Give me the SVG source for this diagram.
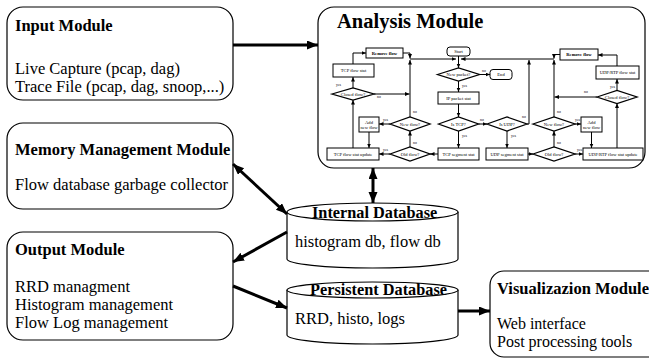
<svg xmlns="http://www.w3.org/2000/svg" width="649" height="358" viewBox="0 0 649 358">
<style>
text{font-family:"Liberation Serif","Times New Roman",serif;fill:#000}
.t{font-size:16.5px;font-weight:bold}
.b{font-size:16.5px}
.v{font-size:16px}
.dt{font-size:16.3px;font-weight:bold}
.mod{fill:#fff;stroke:#000;stroke-width:1.2}
.big{fill:none;stroke:#000;stroke-width:3}
.fc{fill:#fff;stroke:#000;stroke-width:1}
.dm{fill:#fff;stroke:#000;stroke-width:1.3}
.ln{fill:none;stroke:#000;stroke-width:1}
.s{font-size:4.6px;text-anchor:middle}
.sb{font-size:4.6px;text-anchor:middle;font-weight:bold}
.l{font-size:3.8px}
</style>
<defs>
<marker id="ah" markerUnits="userSpaceOnUse" markerWidth="12" markerHeight="10" refX="11" refY="4.5" orient="auto-start-reverse"><path d="M0,0 L11,4.5 L0,9 z" fill="#000"/></marker>
<marker id="sa" markerUnits="userSpaceOnUse" markerWidth="6" markerHeight="6" refX="4.5" refY="2" orient="auto-start-reverse"><path d="M0,0 L4.5,2 L0,4 z" fill="#000"/></marker>
</defs>

<g id="input-module">
<rect class="mod" x="7" y="7" width="226" height="93" rx="16"/>
<text class="t" x="15" y="31">Input Module</text>
<text class="b" x="15" y="74">Live Capture (pcap, dag)</text>
<text class="b" x="15" y="92">Trace File (pcap, dag, snoop,...)</text>
</g>

<g id="memory-module">
<rect class="mod" x="7" y="123" width="226" height="86" rx="16"/>
<text class="t" x="15" y="155">Memory Management Module</text>
<text class="b" x="15" y="190">Flow database garbage collector</text>
</g>

<g id="output-module">
<rect class="mod" x="7" y="232" width="226" height="108" rx="16"/>
<text class="t" x="15" y="255">Output Module</text>
<text class="b" x="15" y="292">RRD managment</text>
<text class="b" x="15" y="310">Histogram management</text>
<text class="b" x="15" y="328">Flow Log management</text>
</g>

<g id="visualization-module">
<rect class="mod" x="490" y="271" width="175" height="86" rx="14"/>
<text class="t" x="497" y="294">Visualizazion Module</text>
<text class="v" x="497" y="329">Web interface</text>
<text class="v" x="497" y="347">Post processing tools</text>
</g>

<g id="internal-database">
<path class="mod" d="M287,212 V259 A85.5,9 0 0 0 458,259 V212"/>
<ellipse class="mod" cx="372.5" cy="212" rx="85.5" ry="9"/>
<text class="dt" x="312" y="218">Internal Database</text>
<text class="b" x="295" y="247">histogram db, flow db</text>
</g>

<g id="persistent-database">
<path class="mod" d="M287,290 V335 A85.5,9 0 0 0 458,335 V290"/>
<ellipse class="mod" cx="372.5" cy="290" rx="85.5" ry="8"/>
<text class="dt" x="310" y="295">Persistent Database</text>
<text class="b" x="295" y="324">RRD, histo, logs</text>
</g>

<g id="analysis-module">
<rect class="mod" x="318" y="7" width="327" height="161" rx="16"/>
<text x="337" y="28" style="font-size:20.5px;font-weight:bold">Analysis Module</text>

<g id="flowchart-connectors">
<path class="ln" d="M410,59 H456" marker-end="url(#sa)"/>
<path class="ln" d="M554,59 H461" marker-end="url(#sa)"/>
<path class="ln" d="M458.5,56 V68" marker-end="url(#sa)"/>
<path class="ln" d="M479.5,74.5 H490" marker-end="url(#sa)"/>
<path class="ln" d="M458.5,81 V92" marker-end="url(#sa)"/>
<path class="ln" d="M458.5,104 V117" marker-end="url(#sa)"/>
<path class="ln" d="M478.5,124 H487" marker-end="url(#sa)"/>
<path class="ln" d="M527,124 H529 V60" marker-end="url(#sa)"/>
<path class="ln" d="M458.5,131 V148" marker-end="url(#sa)"/>
<path class="ln" d="M507,131 V148" marker-end="url(#sa)"/>
<path class="ln" d="M438,154 H430" marker-end="url(#sa)"/>
<path class="ln" d="M390,154 H379" marker-end="url(#sa)"/>
<path class="ln" d="M410,147 V131" marker-end="url(#sa)"/>
<path class="ln" d="M410,117 V60" marker-end="url(#sa)"/>
<path class="ln" d="M390,124 H379" marker-end="url(#sa)"/>
<path class="ln" d="M369,132 V148" marker-end="url(#sa)"/>
<path class="ln" d="M353,148 V100" marker-end="url(#sa)"/>
<path class="ln" d="M374,94 H409.5" marker-end="url(#sa)"/>
<path class="ln" d="M353,88 V77" marker-end="url(#sa)"/>
<path class="ln" d="M353,64 V53 H366" marker-end="url(#sa)"/>
<path class="ln" d="M403,53 H410 V58.5" marker-end="url(#sa)"/>
<path class="ln" d="M560,54.5 H554 V58.5" marker-end="url(#sa)"/>
<path class="ln" d="M617,66 V55 H598" marker-end="url(#sa)"/>
<path class="ln" d="M617,90.5 V79" marker-end="url(#sa)"/>
<path class="ln" d="M597,97 H554.5" marker-end="url(#sa)"/>
<path class="ln" d="M554,117 V60" marker-end="url(#sa)"/>
<path class="ln" d="M575,124 H581" marker-end="url(#sa)"/>
<path class="ln" d="M591.5,132 V148" marker-end="url(#sa)"/>
<path class="ln" d="M528,154 H533" marker-end="url(#sa)"/>
<path class="ln" d="M554,147 V131" marker-end="url(#sa)"/>
<path class="ln" d="M575,154 H583" marker-end="url(#sa)"/>
<path class="ln" d="M617,148 V103.5" marker-end="url(#sa)"/>
<text class="l" x="482" y="71.5">no</text>
<text class="l" x="462" y="87">yes</text>
<text class="l" x="480" y="121">no</text>
<text class="l" x="522" y="118">no</text>
<text class="l" x="462" y="137">yes</text>
<text class="l" x="511" y="137">yes</text>
<text class="l" x="383" y="151">yes</text>
<text class="l" x="413" y="144">no</text>
<text class="l" x="413" y="113">no</text>
<text class="l" x="383" y="121">yes</text>
<text class="l" x="377" y="98">no</text>
<text class="l" x="336" y="86">yes</text>
<text class="l" x="610" y="88">yes</text>
<text class="l" x="584" y="93">no</text>
<text class="l" x="557" y="113">no</text>
<text class="l" x="575" y="121">yes</text>
<text class="l" x="557" y="144">no</text>
<text class="l" x="577" y="151">yes</text>
</g>

<g id="fc-start"><rect class="fc" x="447" y="47" width="23" height="9" rx="3"/><text class="s" x="458.5" y="53">Start</text></g>
<g id="fc-new-packet"><polygon class="dm" points="437.5,74.5 458.5,68 479.5,74.5 458.5,81"/><text class="s" x="458.5" y="76">New packet?</text></g>
<g id="fc-end"><rect class="fc" x="490" y="69.5" width="22" height="10" rx="3"/><text class="s" x="501" y="76">End</text></g>
<g id="fc-ip-packet-stat"><rect class="fc" x="438" y="92" width="41" height="12"/><text class="s" x="458.5" y="99.5">IP packet stat</text></g>
<g id="fc-is-tcp"><polygon class="dm" points="438.5,124 458.5,117 478.5,124 458.5,131"/><text class="s" x="458.5" y="125.5">Is TCP?</text></g>
<g id="fc-is-udp"><polygon class="dm" points="487,124 507,117 527,124 507,131"/><text class="s" x="507" y="125.5">Is UDP?</text></g>
<g id="fc-tcp-segment-stat"><rect class="fc" x="438" y="148" width="41" height="12"/><text class="s" x="458.5" y="155.5">TCP segment stat</text></g>
<g id="fc-udp-segment-stat"><rect class="fc" x="486" y="148" width="42" height="12"/><text class="s" x="507" y="155.5">UDP segment stat</text></g>
<g id="fc-old-flow-tcp"><polygon class="dm" points="390,154 410,147 430,154 410,161"/><text class="s" x="410" y="155.5">Old flow?</text></g>
<g id="fc-new-flow-tcp"><polygon class="dm" points="390,124 410,117 430,124 410,131"/><text class="s" x="410" y="125.5">New flow?</text></g>
<g id="fc-tcp-flow-stat-update"><rect class="fc" x="327" y="148" width="52" height="12"/><text class="s" x="353" y="155.5">TCP flow stat update</text></g>
<g id="fc-add-new-flow-tcp"><rect class="fc" x="359" y="117" width="20" height="15"/><text class="s" x="369" y="123.5">Add</text><text class="s" x="369" y="129">new flow</text></g>
<g id="fc-closed-flow-tcp"><polygon class="dm" points="332,94 353,88 374,94 353,100"/><text class="s" x="353" y="95.5">Closed flow?</text></g>
<g id="fc-tcp-flow-stat"><rect class="fc" x="333" y="64" width="41" height="13"/><text class="s" x="353.5" y="72">TCP flow stat</text></g>
<g id="fc-remove-flow-tcp"><rect class="fc" x="366" y="48" width="37" height="10"/><text class="sb" x="384.5" y="54.5">Remove flow</text></g>
<g id="fc-remove-flow-udp"><rect class="fc" x="560" y="49" width="38" height="11"/><text class="sb" x="579" y="56">Remove flow</text></g>
<g id="fc-udp-flow-stat"><rect class="fc" x="596" y="66" width="43" height="13"/><text class="s" x="617.5" y="74">UDP/RTP flow stat</text></g>
<g id="fc-closed-flow-udp"><polygon class="dm" points="597,97 617,90.5 637,97 617,103.5"/><text class="s" x="617" y="98.5">Closed flow?</text></g>
<g id="fc-new-flow-udp"><polygon class="dm" points="533,124 554,117 575,124 554,131"/><text class="s" x="554" y="125.5">New flow?</text></g>
<g id="fc-add-new-flow-udp"><rect class="fc" x="581" y="117" width="21" height="15"/><text class="s" x="591.5" y="123.5">Add</text><text class="s" x="591.5" y="129">new flow</text></g>
<g id="fc-old-flow-udp"><polygon class="dm" points="533,154 554,147 575,154 554,161"/><text class="s" x="554" y="155.5">Old flow?</text></g>
<g id="fc-udp-flow-stat-update"><rect class="fc" x="583" y="148" width="60" height="12"/><text class="s" x="613" y="155.5">UDP/RTP  flow stat update</text></g>
</g>

<g id="connectors">
<line class="big" x1="233" y1="45" x2="318" y2="45" marker-end="url(#ah)"/>
<line class="big" x1="233" y1="164" x2="287" y2="214" marker-start="url(#ah)" marker-end="url(#ah)"/>
<line class="big" x1="373" y1="168" x2="373" y2="203" marker-start="url(#ah)" marker-end="url(#ah)"/>
<line class="big" x1="287" y1="232" x2="233" y2="262" marker-end="url(#ah)"/>
<line class="big" x1="233" y1="286" x2="287" y2="308" marker-end="url(#ah)"/>
<line class="big" x1="458" y1="311" x2="490" y2="311" marker-end="url(#ah)"/>
</g>
</svg>
